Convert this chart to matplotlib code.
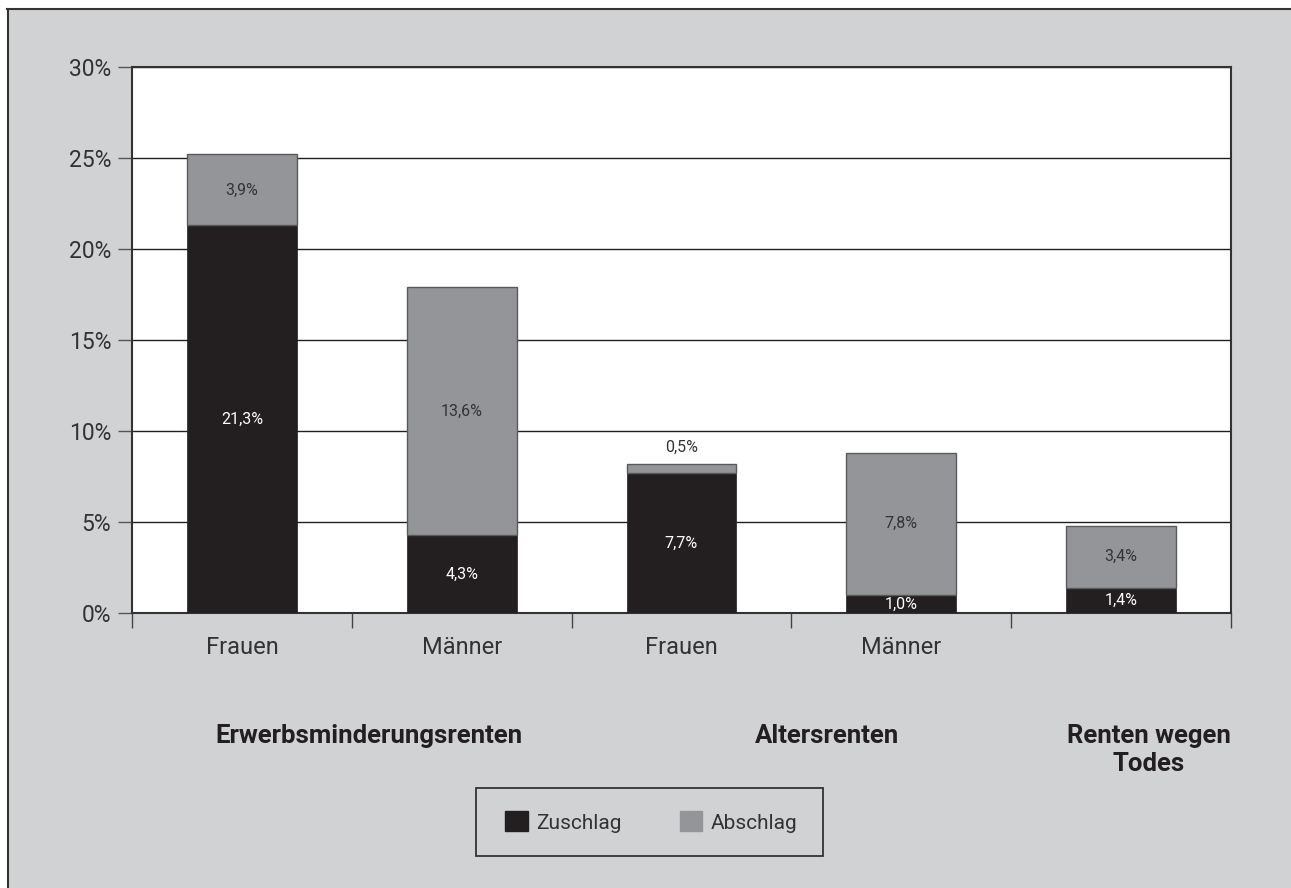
import matplotlib.pyplot as plt
import matplotlib.patches as mpatches
from matplotlib.ticker import FuncFormatter

# Data
categories = ["Frauen", "Männer", "Frauen", "Männer", ""]
zuschlag = [21.3, 4.3, 7.7, 1.0, 1.4]
abschlag = [3.9, 13.6, 0.5, 7.8, 3.4]
groups = ["Erwerbsminderungsrenten", "Altersrenten", "Renten wegen\nTodes"]
group_pos = [0.576, 2.664, 4.125]

bg = "#d1d2d4"
dark = "#231f20"
grey = "#939598"
W, H = 1291, 888

plt.rcParams['font.family'] = ['Roboto', 'DejaVu Sans']

fig = plt.figure(figsize=(W / 100, H / 100), dpi=100)
fig.patch.set_facecolor("white")
# grey panel with top/left border
fig.patches.append(mpatches.Rectangle((7 / W, 0), 1, 1 - 9 / H, transform=fig.transFigure,
                                      facecolor=bg, edgecolor="none", zorder=-2))
fig.lines.append(plt.Line2D([7 / W, 1], [1 - 9.5 / H] * 2, transform=fig.transFigure,
                            color="#333333", lw=1.5))
fig.lines.append(plt.Line2D([7.5 / W] * 2, [0, 1 - 9 / H], transform=fig.transFigure,
                            color="#333333", lw=1.5))

ax = fig.add_axes([132 / W, 1 - 613 / H, 1099 / W, 546 / H])
ax.set_facecolor("white")
x = list(range(len(categories)))

ax.bar(x, zuschlag, width=0.5, color=dark, edgecolor=dark, linewidth=0.5, zorder=3)
ax.bar(x, abschlag, width=0.5, bottom=zuschlag, color=grey, edgecolor="#5a5a5a", linewidth=1, zorder=3)

for i in x:
    z, a = zuschlag[i], abschlag[i]
    ax.text(i, z / 2, f"{z:.1f}%".replace(".", ","), ha="center", va="center",
            color="white", fontsize=11.5, zorder=4)
    if a < 1:
        ax.text(i, z + a + 0.5, f"{a:.1f}%".replace(".", ","), ha="center", va="bottom",
                color="#333333", fontsize=11.5, zorder=4)
    else:
        ax.text(i, z + a / 2, f"{a:.1f}%".replace(".", ","), ha="center", va="center",
                color="#333333", fontsize=11.5, zorder=4)

ax.set_xlim(-0.5, 4.5)
ax.set_ylim(0, 30)
ax.set_yticks(range(0, 31, 5))
ax.yaxis.set_major_formatter(FuncFormatter(lambda v, p: f"{v:.0f}%"))
ax.yaxis.grid(True, color=dark, linewidth=1, zorder=0)
ax.set_axisbelow(True)
ax.tick_params(axis="y", length=10, width=1, color="#555555", labelsize=16.5, labelcolor="#333333", pad=5)

ax.set_xticks([i + 0.5 for i in range(-1, 5)])
ax.set_xticklabels([])
ax.tick_params(axis="x", length=11, width=1, color="#444444", direction="out")
for i, c in enumerate(categories):
    ax.text(i, -1.9, c, ha="center", va="center", fontsize=17, color="#333333")

for s in ax.spines.values():
    s.set_color("#333333")
    s.set_linewidth(1.5)

for g, p in zip(groups, group_pos):
    ax.text(p, -6.1, g, ha="center", va="top", fontsize=18.5, fontweight="bold",
            color=dark, linespacing=1.2)

# legend: items without frame, frame drawn separately
handles = [mpatches.Patch(color=dark, label="Zuschlag"), mpatches.Patch(color=grey, label="Abschlag")]
leg = fig.legend(handles=handles, loc="center", bbox_to_anchor=(651 / W, 1 - 822 / H),
                 ncol=2, frameon=False, fontsize=15, handlelength=1.1,
                 handleheight=1.1, columnspacing=2.8, handletextpad=0.38,
                 borderpad=0, labelcolor="#333333")
fig.patches.append(mpatches.Rectangle((476 / W, 1 - 856 / H), 347 / W, 68 / H,
                                      transform=fig.transFigure, facecolor="none",
                                      edgecolor="#333333", linewidth=1.3))

fig.savefig("out.png", dpi=100)
